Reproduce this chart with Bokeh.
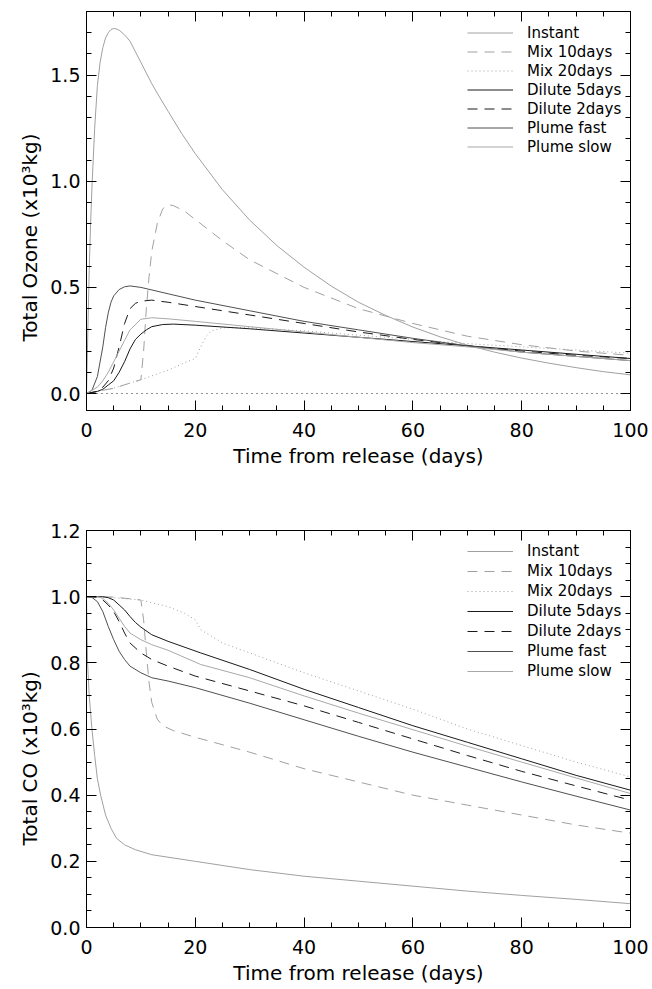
from bokeh.plotting import figure
from bokeh.models import (LinearAxis, SingleIntervalTicker, PrintfTickFormatter,
                          CustomJSTickFormatter, Range1d, Legend, LegendItem, Span, Title)
from bokeh.layouts import column
from bokeh.embed import file_html
from bokeh.resources import INLINE

names = ["Instant", "Mix 10days", "Mix 20days", "Dilute 5days",
         "Dilute 2days", "Plume fast", "Plume slow"]
colors = ["#a0a0a0", "#a0a0a0", "#a0a0a0", "#1a1a1a", "#1a1a1a", "#505050", "#a8a8a8"]
dashes = ["solid", "10 7", "1 3", "solid", "10 7", "solid", "solid"]

# ---------------- Ozone (x10^3 kg) ----------------
o3_instant_t = [0, 0.25, 0.5, 0.75, 1, 1.5, 2, 2.5, 3, 3.5, 4, 4.5, 5, 5.5, 6, 7, 8, 9, 10, 11,
                12, 13, 15, 17.5, 20, 25, 30, 35, 40, 45, 50, 55, 60, 65, 70, 75, 80, 85, 90, 95, 100]
o3_instant_v = [0, 0.30, 0.58, 0.80, 0.97, 1.25, 1.45, 1.56, 1.63, 1.675, 1.70, 1.715, 1.72, 1.718,
                1.712, 1.69, 1.66, 1.61, 1.56, 1.51, 1.46, 1.415, 1.33, 1.225, 1.13, 0.96, 0.817,
                0.697, 0.595, 0.506, 0.43, 0.368, 0.313, 0.267, 0.228, 0.195, 0.167, 0.143,
                0.122, 0.103, 0.088]

o3_mix10_t = [0, 5, 10, 10.5, 11, 11.5, 12, 13, 14, 15, 16, 18, 20, 25, 30, 40, 50, 60, 70, 80, 90, 100]
o3_mix10_v = [0, 0.025, 0.065, 0.2, 0.4, 0.55, 0.67, 0.8, 0.87, 0.89, 0.885, 0.86, 0.82, 0.72,
              0.63, 0.50, 0.40, 0.33, 0.27, 0.23, 0.20, 0.18]

o3_mix20_t = [0, 5, 10, 15, 18, 20, 21, 22, 23, 25, 30, 40, 50, 60, 70, 80, 90, 100]
o3_mix20_v = [0, 0.025, 0.065, 0.11, 0.145, 0.165, 0.22, 0.27, 0.295, 0.31, 0.31, 0.295, 0.275,
              0.255, 0.235, 0.22, 0.205, 0.19]

o3_dil5_t = [0, 2, 3, 4, 5, 6, 7, 8, 9, 10, 11, 12, 14, 16, 20, 30, 40, 50, 60, 70, 80, 90, 100]
o3_dil5_v = [0, 0.01, 0.02, 0.04, 0.06, 0.10, 0.15, 0.21, 0.255, 0.28, 0.30, 0.315, 0.325, 0.327,
             0.322, 0.305, 0.285, 0.265, 0.245, 0.225, 0.205, 0.185, 0.165]

o3_dil2_t = [0, 2, 3, 4, 5, 6, 7, 8, 9, 10, 12, 15, 20, 30, 40, 50, 60, 70, 80, 90, 100]
o3_dil2_v = [0, 0.01, 0.03, 0.06, 0.12, 0.22, 0.33, 0.40, 0.425, 0.435, 0.44, 0.43, 0.41, 0.37,
             0.33, 0.29, 0.255, 0.225, 0.20, 0.18, 0.165]

o3_pfast_t = [0, 1, 2, 3, 3.5, 4, 4.5, 5, 6, 7, 8, 10, 15, 20, 30, 40, 50, 60, 70, 80, 90, 100]
o3_pfast_v = [0, 0.015, 0.08, 0.22, 0.31, 0.38, 0.43, 0.46, 0.49, 0.503, 0.507, 0.50, 0.47, 0.44,
              0.39, 0.34, 0.30, 0.26, 0.225, 0.195, 0.175, 0.155]

o3_pslow_t = [0, 2, 3, 4, 5, 6, 7, 8, 10, 12, 15, 20, 30, 40, 50, 60, 70, 80, 90, 100]
o3_pslow_v = [0, 0.03, 0.06, 0.10, 0.15, 0.20, 0.25, 0.30, 0.35, 0.357, 0.352, 0.34, 0.315, 0.29,
              0.265, 0.24, 0.22, 0.195, 0.175, 0.155]

zero_level = 0.0

# ---------------- CO (x10^3 kg) ----------------
co_instant_t = [0, 0.2, 0.5, 1, 1.5, 2, 2.6, 3.5, 4.5, 5.5, 7, 9, 12, 20, 30, 40, 50, 60, 70, 80, 90, 100]
co_instant_v = [1.0, 0.8, 0.7, 0.6, 0.52, 0.45, 0.4, 0.34, 0.30, 0.27, 0.25, 0.235, 0.22, 0.20,
                0.175, 0.155, 0.14, 0.125, 0.11, 0.097, 0.085, 0.072]

co_mix10_t = [0, 5, 10, 10.5, 11, 11.5, 12, 13, 14, 16, 20, 30, 40, 50, 60, 70, 80, 90, 100]
co_mix10_v = [1.0, 0.999, 0.99, 0.93, 0.83, 0.74, 0.68, 0.63, 0.61, 0.595, 0.575, 0.53, 0.48,
              0.44, 0.40, 0.37, 0.34, 0.31, 0.285]

co_mix20_t = [0, 5, 10, 15, 18, 20, 21, 23, 25, 30, 40, 50, 60, 70, 80, 90, 100]
co_mix20_v = [1.0, 0.997, 0.99, 0.97, 0.95, 0.93, 0.90, 0.88, 0.86, 0.83, 0.77, 0.715, 0.66,
              0.60, 0.55, 0.50, 0.455]

co_dil5_t = [0, 3, 4, 5, 6, 7, 8, 9, 10, 12, 15, 21, 30, 40, 50, 60, 70, 80, 90, 100]
co_dil5_v = [1.0, 1.0, 0.997, 0.99, 0.975, 0.96, 0.94, 0.922, 0.908, 0.885, 0.865, 0.83, 0.78,
             0.72, 0.665, 0.61, 0.56, 0.51, 0.46, 0.415]

co_dil2_t = [0, 2, 3, 4, 5, 6, 7, 8, 10, 12, 15, 20, 30, 40, 50, 60, 70, 80, 90, 100]
co_dil2_v = [1.0, 0.998, 0.99, 0.975, 0.955, 0.925, 0.89, 0.86, 0.83, 0.81, 0.79, 0.76, 0.715,
             0.67, 0.62, 0.57, 0.52, 0.472, 0.428, 0.385]

co_pfast_t = [0, 1, 2, 3, 4, 5, 6, 7, 8, 10, 12, 15, 20, 30, 40, 50, 60, 70, 80, 90, 100]
co_pfast_v = [1.0, 0.998, 0.985, 0.955, 0.91, 0.87, 0.835, 0.81, 0.79, 0.77, 0.755, 0.745, 0.725,
              0.678, 0.628, 0.578, 0.53, 0.485, 0.44, 0.397, 0.355]

co_pslow_t = [0, 2, 3, 4, 5, 6, 7, 8, 10, 12, 15, 21, 30, 40, 50, 60, 70, 80, 90, 100]
co_pslow_v = [1.0, 1.0, 0.995, 0.98, 0.96, 0.935, 0.91, 0.89, 0.87, 0.855, 0.838, 0.795, 0.755,
              0.70, 0.648, 0.598, 0.548, 0.50, 0.452, 0.405]

x_ticks_interval = 20
FONT = "DejaVu Sans"


def style_axis(ax, labels=True):
    ax.axis_line_color = "black"
    ax.major_tick_line_color = "black"
    ax.minor_tick_line_color = "black"
    ax.major_tick_in = 10
    ax.major_tick_out = 0
    ax.minor_tick_in = 5
    ax.minor_tick_out = 0
    ax.major_label_text_font = FONT
    ax.axis_label_text_font = FONT
    ax.axis_label_text_font_style = "normal"
    ax.axis_label_text_color = "black"
    ax.major_label_text_color = "black"
    ax.major_label_text_font_size = "19px"
    ax.axis_label_text_font_size = "20px"
    if not labels:
        ax.formatter = CustomJSTickFormatter(code="return ''")
        ax.major_label_standoff = 0
        ax.axis_label = None


def make_fig(series, yr, ymaj, ynminor, ylabel, h, bt, bb, legend_y, row_h, ylab_off, zero=False):
    p = figure(width=652, height=h, output_backend="svg", toolbar_location=None,
               x_range=Range1d(0, 100), y_range=Range1d(*yr),
               min_border_left=86, min_border_right=22, min_border_top=bt, min_border_bottom=bb,
               x_axis_type=None, y_axis_type=None)
    p.grid.visible = False
    p.outline_line_color = "black"
    p.background_fill_color = "white"
    p.border_fill_color = "white"

    xt = SingleIntervalTicker(interval=x_ticks_interval, num_minor_ticks=4)
    yt = SingleIntervalTicker(interval=ymaj, num_minor_ticks=ynminor)
    xb = LinearAxis(ticker=xt, axis_label="Time from release (days)")
    style_axis(xb)
    xb.major_label_standoff = 12
    xb.axis_label_standoff = 4
    p.add_layout(xb, "below")
    xa = LinearAxis(ticker=xt)
    style_axis(xa, labels=False)
    p.add_layout(xa, "above")
    yl = LinearAxis(ticker=yt, formatter=PrintfTickFormatter(format="%.1f"))
    style_axis(yl)
    yl.major_label_standoff = 6
    p.add_layout(yl, "left")
    yrr = LinearAxis(ticker=yt)
    style_axis(yrr, labels=False)
    p.add_layout(yrr, "right")

    p.add_layout(Title(text=ylabel, align="left", offset=ylab_off, standoff=12,
                       text_font=FONT, text_font_size="20px", text_font_style="normal",
                       text_color="black"), "left")

    if zero:
        p.add_layout(Span(location=zero_level, dimension="width", line_color="#222222",
                          line_dash="1 4", line_width=1))

    items = []
    for (t, v), name, c, d in zip(series, names, colors, dashes):
        r = p.line(t, v, line_color=c, line_dash=d, line_width=1)
        items.append(LegendItem(label=name, renderers=[r]))
    leg = Legend(items=items, location=(381, legend_y), border_line_color=None,
                 background_fill_alpha=0, padding=0, margin=0, spacing=0,
                 glyph_width=46, glyph_height=row_h, label_height=row_h,
                 label_standoff=14, label_text_font=FONT, label_text_font_size="15px",
                 label_text_color="black")
    p.add_layout(leg, "center")
    return p


o3_series = [(o3_instant_t, o3_instant_v), (o3_mix10_t, o3_mix10_v), (o3_mix20_t, o3_mix20_v),
             (o3_dil5_t, o3_dil5_v), (o3_dil2_t, o3_dil2_v), (o3_pfast_t, o3_pfast_v),
             (o3_pslow_t, o3_pslow_v)]
co_series = [(co_instant_t, co_instant_v), (co_mix10_t, co_mix10_v), (co_mix20_t, co_mix20_v),
             (co_dil5_t, co_dil5_v), (co_dil2_t, co_dil2_v), (co_pfast_t, co_pfast_v),
             (co_pslow_t, co_pslow_v)]

p1 = make_fig(o3_series, (-0.08, 1.8), 0.5, 5, "Total Ozone (x10³kg)", 500, 11, 90, 254, 19,
              69, zero=True)
p2 = make_fig(co_series, (0.0, 1.2001), 0.2, 4, "Total CO (x10³kg)", 489, 30, 62, 246, 20, 82)

layout = column(p1, p2, spacing=0)
open("out.html", "w").write(file_html(layout, INLINE))
